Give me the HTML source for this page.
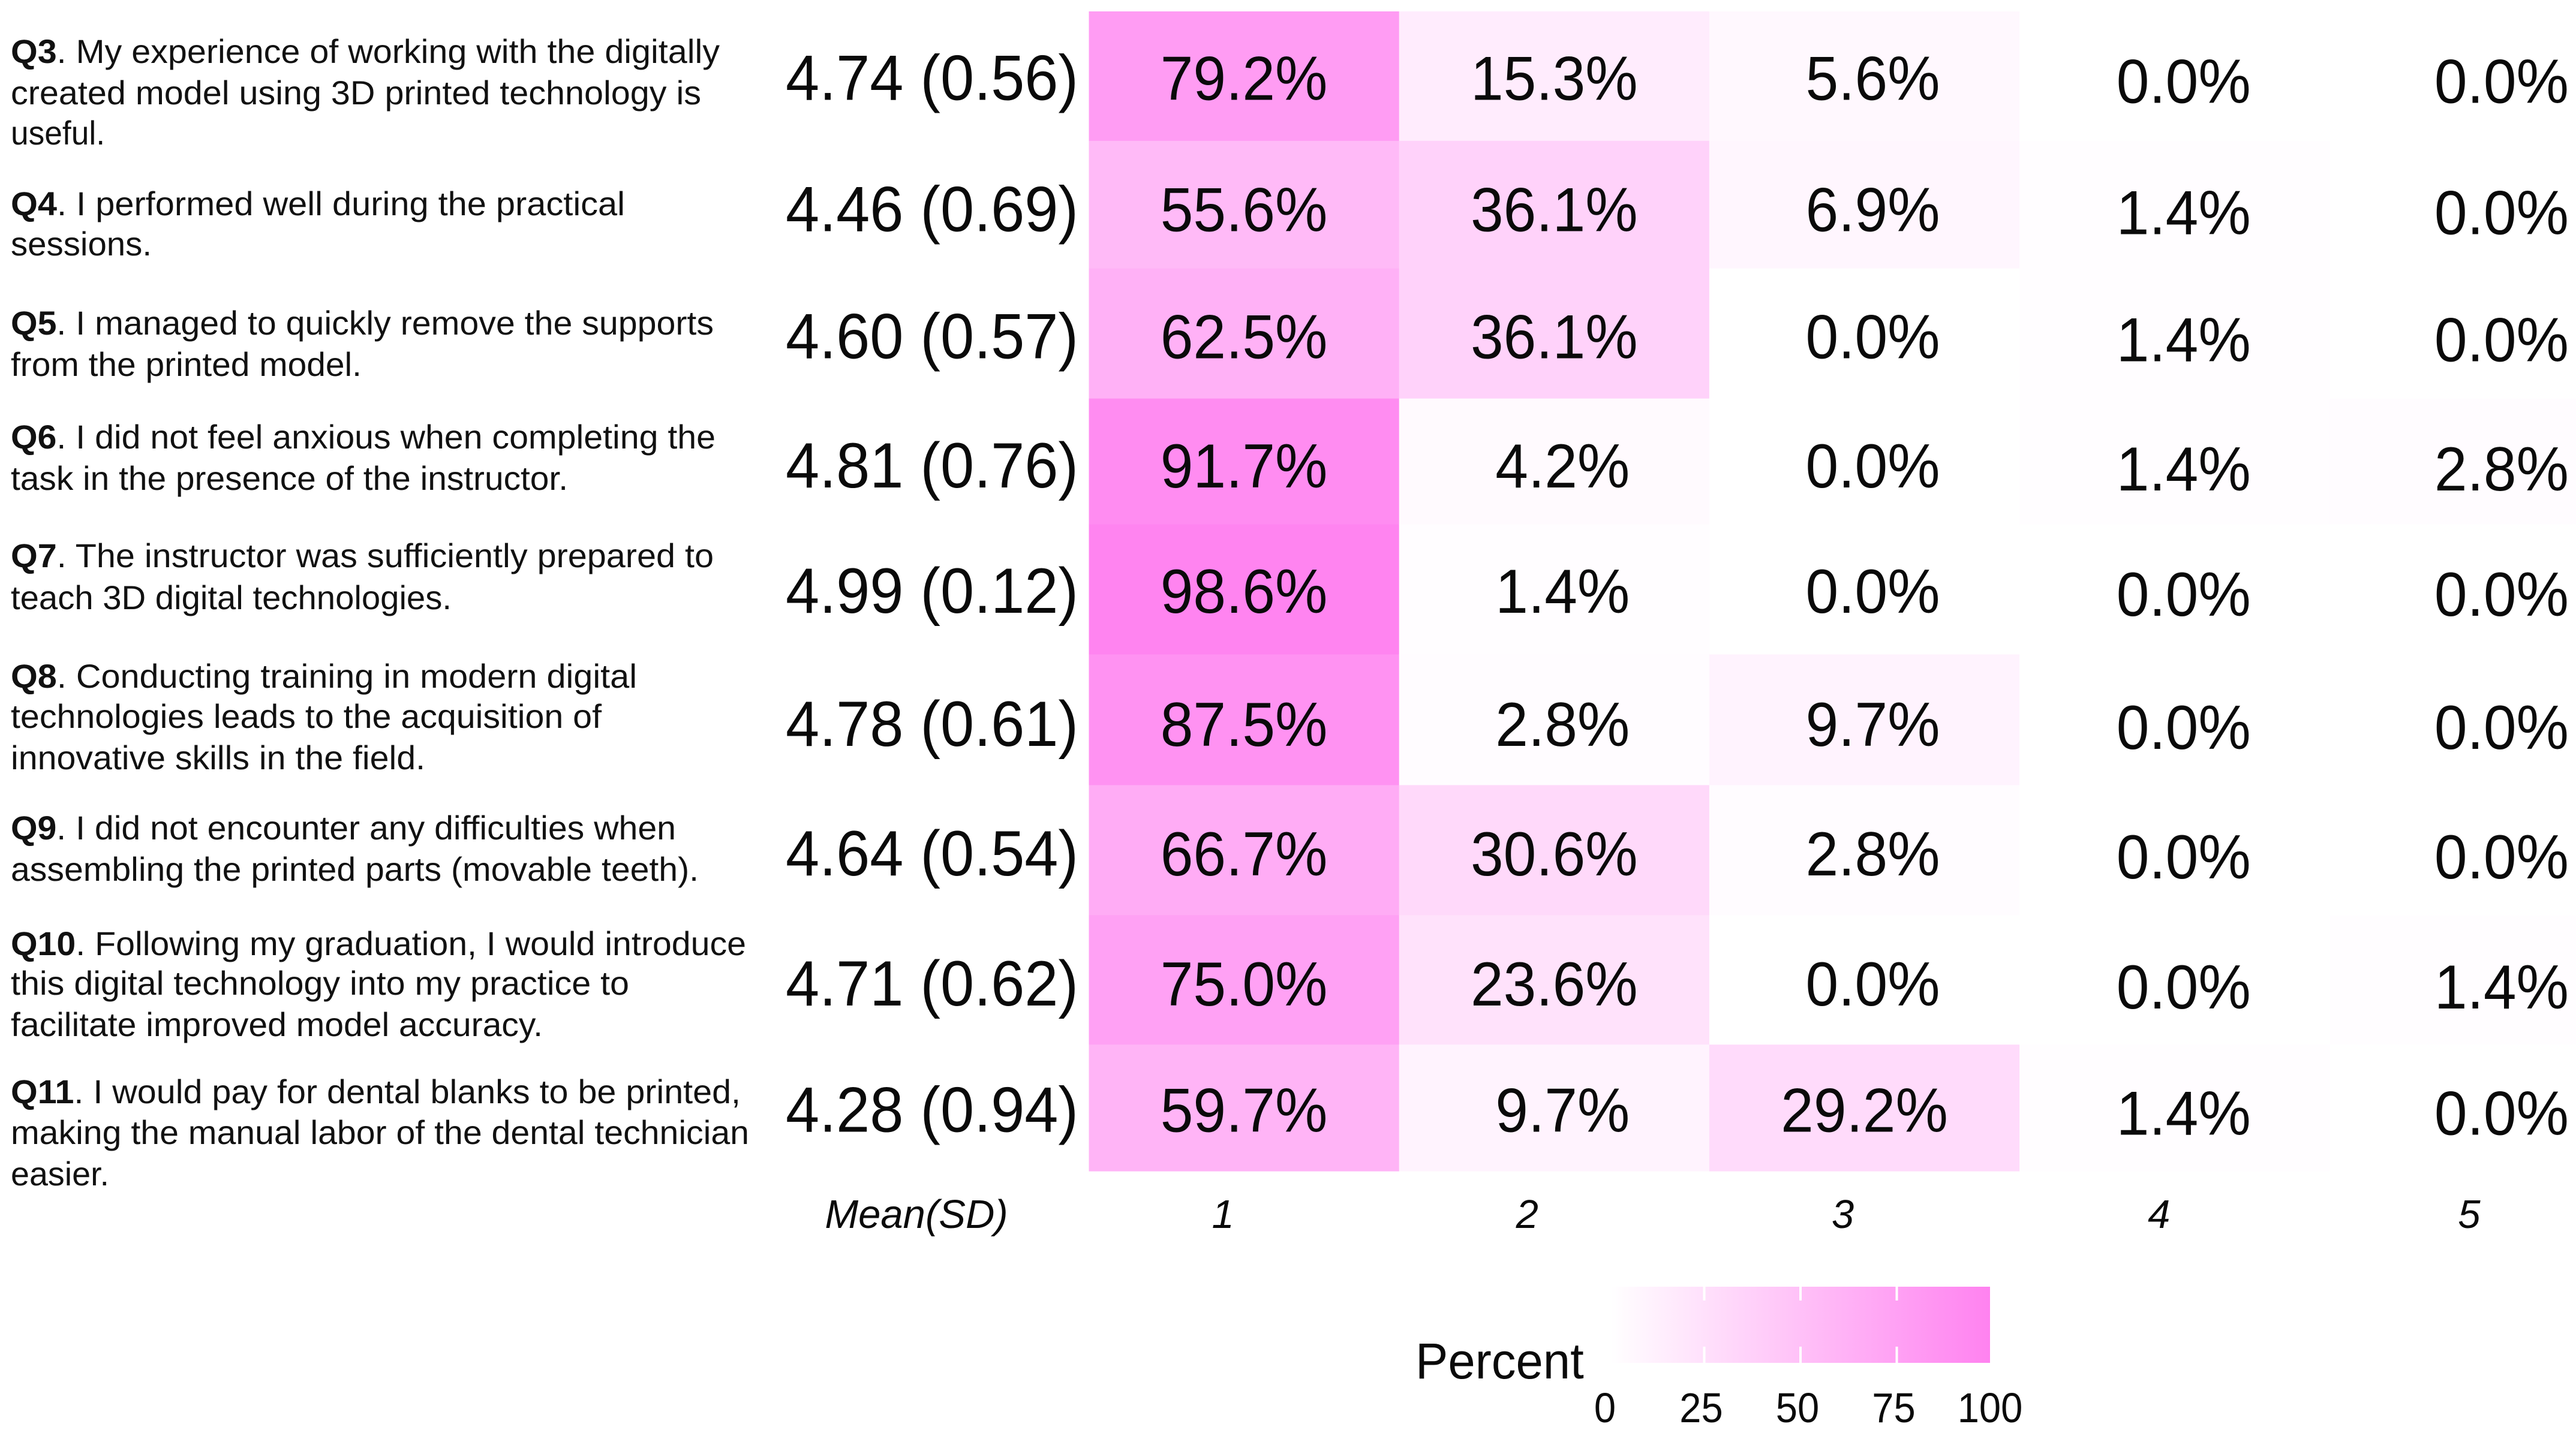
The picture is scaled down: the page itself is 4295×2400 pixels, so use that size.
<!DOCTYPE html>
<html lang="en">
<head>
<meta charset="utf-8">
<title>Likert survey heatmap</title>
<style>
html,body{margin:0;padding:0;background:#fff;}
svg{display:block;}
text{font-family:"Liberation Sans",Arial,sans-serif;fill:#0a0a0a;}
.q{font-size:56px;fill:#111;}
.q tspan.b{font-weight:bold;}
</style>
</head>
<body>
<svg id="chart" xmlns="http://www.w3.org/2000/svg" width="4295" height="2400" viewBox="0 0 4295 2400">
<defs>
<linearGradient id="legend-gradient" x1="0" x2="1" y1="0" y2="0">
<stop offset="0" stop-color="#ffffff"/>
<stop offset="1" stop-color="#ff82f0"/>
</linearGradient>
</defs>
<rect width="4295" height="2400" fill="#ffffff"/>
<g id="cells"></g>
<g>
<text class="q" x="18" y="105" textLength="1182" lengthAdjust="spacingAndGlyphs"><tspan class="b">Q3</tspan>. My experience of working with the digitally</text>
<text class="q" x="18" y="174" textLength="1151" lengthAdjust="spacingAndGlyphs">created model using 3D printed technology is</text>
<text class="q" x="18" y="241" textLength="157" lengthAdjust="spacingAndGlyphs">useful.</text>
<text class="q" x="18" y="359" textLength="1024" lengthAdjust="spacingAndGlyphs"><tspan class="b">Q4</tspan>. I performed well during the practical</text>
<text class="q" x="18" y="426" textLength="235" lengthAdjust="spacingAndGlyphs">sessions.</text>
<text class="q" x="18" y="558" textLength="1172" lengthAdjust="spacingAndGlyphs"><tspan class="b">Q5</tspan>. I managed to quickly remove the supports</text>
<text class="q" x="18" y="627" textLength="585" lengthAdjust="spacingAndGlyphs">from the printed model.</text>
<text class="q" x="18" y="748" textLength="1175" lengthAdjust="spacingAndGlyphs"><tspan class="b">Q6</tspan>. I did not feel anxious when completing the</text>
<text class="q" x="18" y="817" textLength="929" lengthAdjust="spacingAndGlyphs">task in the presence of the instructor.</text>
<text class="q" x="18" y="946" textLength="1172" lengthAdjust="spacingAndGlyphs"><tspan class="b">Q7</tspan>. The instructor was sufficiently prepared to</text>
<text class="q" x="18" y="1016" textLength="735" lengthAdjust="spacingAndGlyphs">teach 3D digital technologies.</text>
<text class="q" x="18" y="1147" textLength="1044" lengthAdjust="spacingAndGlyphs"><tspan class="b">Q8</tspan>. Conducting training in modern digital</text>
<text class="q" x="18" y="1214" textLength="985" lengthAdjust="spacingAndGlyphs">technologies leads to the acquisition of</text>
<text class="q" x="18" y="1283" textLength="691" lengthAdjust="spacingAndGlyphs">innovative skills in the field.</text>
<text class="q" x="18" y="1400" textLength="1109" lengthAdjust="spacingAndGlyphs"><tspan class="b">Q9</tspan>. I did not encounter any difficulties when</text>
<text class="q" x="18" y="1469" textLength="1147" lengthAdjust="spacingAndGlyphs">assembling the printed parts (movable teeth).</text>
<text class="q" x="18" y="1593" textLength="1226" lengthAdjust="spacingAndGlyphs"><tspan class="b">Q10</tspan>. Following my graduation, I would introduce</text>
<text class="q" x="18" y="1659" textLength="1031" lengthAdjust="spacingAndGlyphs">this digital technology into my practice to</text>
<text class="q" x="18" y="1728" textLength="887" lengthAdjust="spacingAndGlyphs">facilitate improved model accuracy.</text>
<text class="q" x="18" y="1840" textLength="1217" lengthAdjust="spacingAndGlyphs"><tspan class="b">Q11</tspan>. I would pay for dental blanks to be printed,</text>
<text class="q" x="18" y="1908" textLength="1231" lengthAdjust="spacingAndGlyphs">making the manual labor of the dental technician</text>
<text class="q" x="18" y="1977" textLength="164" lengthAdjust="spacingAndGlyphs">easier.</text>
</g>
<g id="means"></g>
<g id="values"></g>
<g id="ticks"></g>
<g id="legend">
<text transform="translate(2360,2299) scale(0.97,1)" font-size="84">Percent</text>
</g>
</svg>
<script>
// Data
const questions = ['Q3','Q4','Q5','Q6','Q7','Q8','Q9','Q10','Q11'];
const scoreLabels = ['1','2','3','4','5'];
const meanLabel = 'Mean(SD)';
const means = [4.74,4.46,4.60,4.81,4.99,4.78,4.64,4.71,4.28];
const sds = [0.56,0.69,0.57,0.76,0.12,0.61,0.54,0.62,0.94];
const percent1 = [79.2,55.6,62.5,91.7,98.6,87.5,66.7,75.0,59.7];
const percent2 = [15.3,36.1,36.1,4.2,1.4,2.8,30.6,23.6,9.7];
const percent3 = [5.6,6.9,0.0,0.0,0.0,9.7,2.8,0.0,29.2];
const percent4 = [0.0,1.4,1.4,1.4,0.0,0.0,0.0,0.0,1.4];
const percent5 = [0.0,0.0,0.0,2.8,0.0,0.0,0.0,1.4,0.0];
const legendTicks = [0,25,50,75,100];

const NS = 'http://www.w3.org/2000/svg';
const series = [percent1, percent2, percent3, percent4, percent5];

// Axis functions
const colStart = 1815.5, colStep = 517.2;
const rowStart = 19, rowStep = 214.9;
function xBand(c){ return colStart + c * colStep; }
function yBand(r){
  // the source grid rows are slightly uneven
  const edgeNudge = [0,1,-1,1,-4,-2,1,3,4,0];
  return rowStart + r * rowStep + edgeNudge[r];
}
function yText(r){
  const textNudge = [-2,2,-1,0,-6,1,2,4,0];
  return rowStart + (r + 0.5) * rowStep + 42 + textNudge[r];
}
function xLegend(v){ return 2678 + v / 100 * 642; }
function fill(p){
  const t = Math.max(0, Math.min(100, p)) / 100;
  const g = Math.round(255 - 125 * t);
  const b = Math.round(255 - 15 * t);
  return 'rgb(255,' + g + ',' + b + ')';
}
function make(tag, parent, attrs){
  const el = document.createElementNS(NS, tag);
  for (const k in attrs) el.setAttribute(k, attrs[k]);
  parent.appendChild(el);
  return el;
}

const cellsG = document.getElementById('cells');
const valuesG = document.getElementById('values');
const meansG = document.getElementById('means');
const ticksG = document.getElementById('ticks');
const legendG = document.getElementById('legend');

// The value text in the source was pasted slightly off the cell centres
function labelShift(c, v){
  const base = c === 4 ? 28 : c === 3 ? 15 : 14;
  return v >= 10 ? base - 14 : base;
}

series.forEach(function(values, c){
  values.forEach(function(v, r){
    const rect = make('rect', cellsG, {
      x: xBand(c), y: yBand(r), width: colStep + 0.5, height: yBand(r + 1) - yBand(r) + 0.5, fill: fill(v)
    });
    
    

    const cx = xBand(c) + colStep / 2 + labelShift(c, v);
    const cy = yText(r) + (c >= 3 ? 5 : 0);
    const label = make('text', valuesG, {
      transform: 'translate(' + cx + ',' + cy + ') scale(0.945,1)',
      'text-anchor': 'middle', 'font-size': 104
    });
    label.textContent = v.toFixed(1) + '%';
    
    
  });
});

means.forEach(function(m, r){
  const t = make('text', meansG, {
    transform: 'translate(1554,' + yText(r) + ') scale(0.943,1)',
    'text-anchor': 'middle', 'font-size': 107
  });
  t.textContent = m.toFixed(2) + ' (' + sds[r].toFixed(2) + ')';
  
  
});

const meanTick = make('text', ticksG, {
  x: 1528, y: 2048, 'text-anchor': 'middle', 'font-size': 67, 'font-style': 'italic'
});
meanTick.textContent = meanLabel;



scoreLabels.forEach(function(lbl, c){
  const nudge = c === 0 ? -35 : c === 1 ? -45 : c === 2 ? -36 : c === 3 ? -26 : -26;
  const t = make('text', ticksG, {
    x: xBand(c) + colStep / 2 + nudge, y: 2048,
    'text-anchor': 'middle', 'font-size': 67, 'font-style': 'italic'
  });
  t.textContent = lbl;
  
  
});

const legendBar = make('rect', legendG, {
  x: xLegend(0) + 8, y: 2146, width: xLegend(100) - xLegend(0) - 10, height: 127, fill: 'url(#legend-gradient)'
});



legendTicks.forEach(function(v){
  if (v > 0 && v < 100) {
    const top = make('rect', legendG, { x: xLegend(v) + 1, y: 2146, width: 4, height: 23, fill: '#ffffff' });
    
    
    const bottom = make('rect', legendG, { x: xLegend(v) + 1, y: 2246, width: 4, height: 27, fill: '#ffffff' });
    
    
  }
  const t = make('text', legendG, {
    transform: 'translate(' + (xLegend(v) - 2) + ',2372) scale(0.93,1)',
    'text-anchor': 'middle', 'font-size': 70
  });
  t.textContent = String(v);
  
  
});
</script>
</body>
</html>
